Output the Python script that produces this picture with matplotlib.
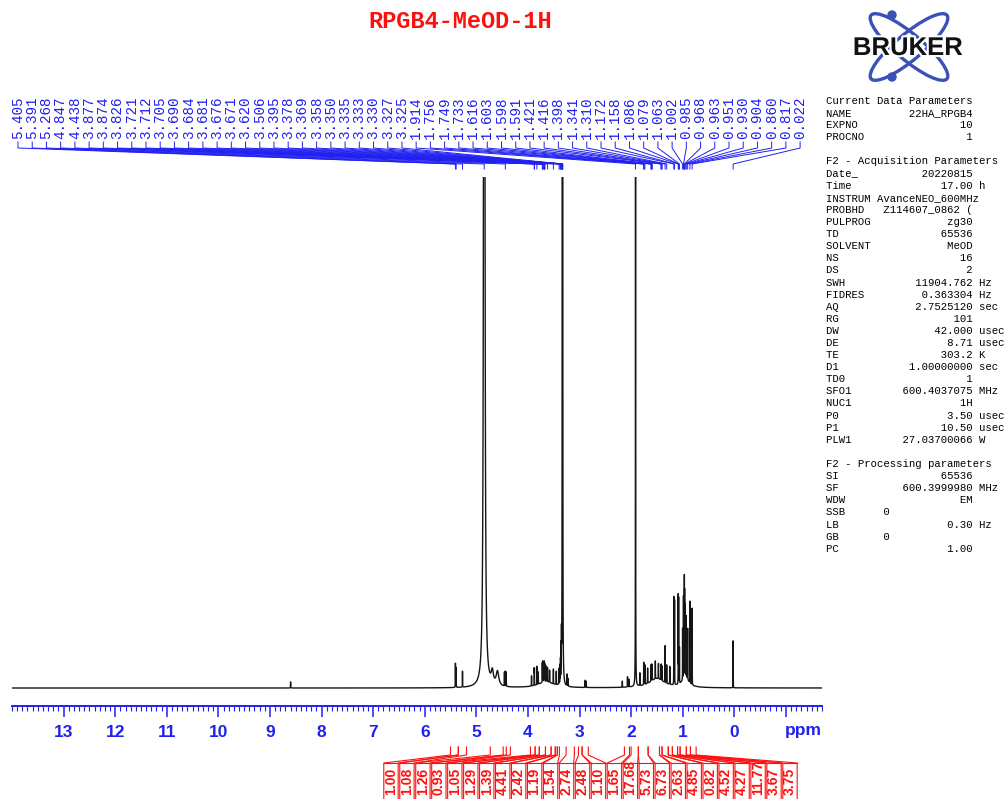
import numpy as np
import matplotlib
matplotlib.use("Agg")
import matplotlib.pyplot as plt
from matplotlib import patheffects
from matplotlib.patches import Ellipse, Circle
from matplotlib.ticker import FixedLocator, MultipleLocator, FuncFormatter

plt.rcParams['path.simplify'] = False

title = 'RPGB4-MeOD-1H'

# picked peaks: shift (ppm), height (% of full scale), line width (ppm)
peak_ppm = [5.405, 5.391, 5.268, 4.847, 4.438,
            3.877, 3.874, 3.826, 3.721, 3.712, 3.705, 3.690, 3.684, 3.681,
            3.676, 3.671, 3.620, 3.506, 3.395, 3.378, 3.369, 3.358, 3.350,
            3.335, 3.333, 3.330, 3.327, 3.325,
            1.914, 1.756, 1.749, 1.733, 1.616, 1.603, 1.598, 1.591, 1.421,
            1.416, 1.398, 1.341, 1.310, 1.172, 1.158, 1.086, 1.079, 1.063,
            1.002, 0.985, 0.968, 0.963, 0.951, 0.930, 0.904, 0.860, 0.817,
            0.022]
peak_height = [4.7, 3.9, 3.1, 800, 2.9,
               3.0, 3.0, 3.6, 3.8, 4.0, 3.6, 3.6, 3.3, 3.2,
               3.1, 3.0, 2.7, 2.9, 3.0, 3.3, 4.2, 6.2, 7.0,
               150, 250, 400, 250, 150,
               300, 4.3, 4.0, 3.8, 3.2, 3.0, 3.0, 2.9, 2.7,
               3.0, 2.9, 7.2, 3.6, 17.2, 16.5, 17.2, 16.5, 7.0,
               10.0, 16.0, 19.0, 16.0, 14.0, 12.0, 10.0, 16.0, 15.0,
               9.2]
peak_fwhm = [0.003] * 3 + [0.012] + [0.0025] * 52

# lines and humps that were not picked
extra_ppm = [8.60, 4.69, 4.59, 4.455, 4.42, 3.93, 3.80, 3.64, 3.58, 3.45,
             3.24, 3.22, 2.89, 2.87, 2.17, 2.07, 2.04, 1.83, 1.68, 1.53,
             1.47, 1.25, 1.50, 3.65, 0.95]
extra_height = [1.2, 2.5, 2.8, 2.7, 2.8, 2.0, 2.4, 3.0, 2.4, 2.6,
                2.3, 1.5, 1.4, 1.2, 1.2, 2.0, 1.5, 2.5, 3.0, 3.5,
                3.0, 3.5, 1.8, 1.2, 2.0]
extra_fwhm = [0.005, 0.05, 0.06, 0.003, 0.003, 0.004, 0.004, 0.004, 0.004, 0.004,
              0.004, 0.004, 0.004, 0.004, 0.004, 0.004, 0.004, 0.004, 0.004, 0.004,
              0.004, 0.004, 0.35, 0.35, 0.15]

# integrals: value and region (ppm)
integral_value = [1.00, 1.08, 1.26, 0.93, 1.05, 1.29, 1.39, 4.41, 2.42, 1.19,
                  1.54, 2.74, 2.48, 1.10, 1.65, 17.68, 5.73, 6.73, 2.63, 4.85,
                  0.82, 4.52, 4.27, 11.77, 3.67, 3.75]
integral_from = [5.50, 5.35, 4.73, 4.42, 3.95, 3.86, 3.78, 3.66, 3.55, 3.47,
                 3.43, 3.26, 3.02, 2.95, 2.13, 2.00, 1.86, 1.67, 1.45, 1.40,
                 1.28, 1.20, 1.10, 1.05, 0.93, 0.85]
integral_to = [5.35, 5.19, 4.48, 4.34, 3.86, 3.78, 3.66, 3.55, 3.47, 3.43,
               3.39, 3.10, 2.95, 2.83, 2.03, 1.86, 1.67, 1.45, 1.40, 1.28,
               1.20, 1.10, 1.05, 0.93, 0.85, 0.74]

# acquisition / processing parameters (name, value, unit)
params = [
    ('Current Data Parameters',),
    ('NAME', '22HA_RPGB4', ''),
    ('EXPNO', '10', ''),
    ('PROCNO', '1', ''),
    (),
    ('F2 - Acquisition Parameters',),
    ('Date_', '20220815', ''),
    ('Time', '17.00', 'h'),
    ('INSTRUM', 'AvanceNEO_600MHz', ''),
    ('PROBHD', 'Z114607_0862 (', ''),
    ('PULPROG', 'zg30', ''),
    ('TD', '65536', ''),
    ('SOLVENT', 'MeOD', ''),
    ('NS', '16', ''),
    ('DS', '2', ''),
    ('SWH', '11904.762', 'Hz'),
    ('FIDRES', '0.363304', 'Hz'),
    ('AQ', '2.7525120', 'sec'),
    ('RG', '101', ''),
    ('DW', '42.000', 'usec'),
    ('DE', '8.71', 'usec'),
    ('TE', '303.2', 'K'),
    ('D1', '1.00000000', 'sec'),
    ('TD0', '1', ''),
    ('SFO1', '600.4037075', 'MHz'),
    ('NUC1', '1H', ''),
    ('P0', '3.50', 'usec'),
    ('P1', '10.50', 'usec'),
    ('PLW1', '27.03700066', 'W'),
    (),
    ('F2 - Processing parameters',),
    ('SI', '65536', ''),
    ('SF', '600.3999980', 'MHz'),
    ('WDW', 'EM', ''),
    ('SSB', '0', 'left'),
    ('LB', '0.30', 'Hz'),
    ('GB', '0', 'left'),
    ('PC', '1.00', ''),
]

BLUE = '#2020f0'
RED = '#ff1010'
W, H = 1008, 799

fig = plt.figure(figsize=(W / 100, H / 100), dpi=100)
fig.patch.set_facecolor('white')

# spectrum axes, bottom spine is the ppm scale
ax_l, ax_r, ax_t, ax_b = 12, 822, 177, 706
ax = fig.add_axes([ax_l / W, 1 - ax_b / H, (ax_r - ax_l) / W, (ax_b - ax_t) / H])
ax.patch.set_visible(False)

grid = np.arange(14.0, -1.7, -0.0004)
x = np.sort(np.concatenate([grid, peak_ppm, extra_ppm]))[::-1]
y = np.zeros_like(x)
for p, h, w in zip(peak_ppm + extra_ppm, peak_height + extra_height,
                   peak_fwhm + extra_fwhm):
    hw = w / 2
    y += h * hw ** 2 / ((x - p) ** 2 + hw ** 2)

ax.plot(x, y, color='#151515', lw=1.0)
ax.set_xlim(14.0, -1.7)
ax.set_ylim(-3.52, 100)

for side in ['top', 'left', 'right']:
    ax.spines[side].set_visible(False)
ax.spines['bottom'].set_color(BLUE)
ax.spines['bottom'].set_linewidth(1.4)
ax.set_yticks([])
ax.xaxis.set_major_locator(FixedLocator(range(-1, 14)))
ax.xaxis.set_minor_locator(MultipleLocator(0.1))
ax.xaxis.set_major_formatter(FuncFormatter(lambda v, pos: '' if v < 0 else '%d' % v))
ax.tick_params(axis='x', which='major', direction='out', length=8, width=1.1,
               color=BLUE, labelcolor=BLUE, pad=6)
ax.tick_params(axis='x', which='minor', direction='out', length=3.5, width=0.8,
               color=BLUE)
for lab in ax.get_xticklabels():
    lab.set_fontfamily('Liberation Sans')
    lab.set_fontweight('bold')
    lab.set_fontsize(12.5)

# pixel-space overlay for labels and annotations
over = fig.add_axes([0, 0, 1, 1])
over.set_xlim(0, W)
over.set_ylim(H, 0)
over.axis('off')


def ppm_to_px(vals):
    pts = np.column_stack([vals, np.zeros(len(vals))])
    return over.transData.inverted().transform(ax.transData.transform(pts))[:, 0]


over.text(803, 731, 'ppm', ha='center', va='center', color=BLUE,
          fontsize=12.5, fontweight='bold', family='Liberation Sans')

over.text(460, 22, title, ha='center', va='center', color=RED,
          fontsize=17, fontweight='bold', family='Liberation Mono')

# peak labels with leader lines
peak_px = ppm_to_px(peak_ppm)
lab_x0, lab_dx = 18, 14.22
for i, (p, px) in enumerate(zip(peak_ppm, peak_px)):
    lx = lab_x0 + i * lab_dx
    over.plot([lx, lx, px, px], [142, 148, 164, 169], color=BLUE, lw=0.7)
    over.text(lx, 139, '%.3f' % p, rotation=90, ha='center', va='bottom',
              color=BLUE, fontsize=10.3, family='Liberation Mono')

# integral labels with brackets
a_px = ppm_to_px(integral_from)
b_px = ppm_to_px(integral_to)
box_x0, box_w = 383, 15.96
for i, (val, pa, pb) in enumerate(zip(integral_value, a_px, b_px)):
    bl = box_x0 + i * box_w + 0.8
    br = box_x0 + (i + 1) * box_w - 0.8
    over.plot([pa, pa, bl, bl], [747, 755, 763, 800], color=RED, lw=0.8)
    over.plot([pb, pb, br, br], [747, 755, 763, 800], color=RED, lw=0.8)
    over.plot([bl, br], [763, 763], color=RED, lw=0.8)
    over.text((bl + br) / 2, 795, '%.2f' % val, rotation=90, ha='center',
              va='bottom', color=RED, fontsize=10, fontweight='bold',
              family='Liberation Sans')

# parameter block
for k, row in enumerate(params):
    if not row:
        continue
    if len(row) == 1:
        line = row[0]
    else:
        name, val, unit = row
        if unit == 'left':
            line = f'{name:<9}{val}'
        else:
            line = f'{name:<8}{val:>15} {unit}'.rstrip()
    over.text(826, 101 + k * 12.1, line, ha='left', va='center',
              fontsize=7.7, family='Liberation Mono', color='black')

# logo
orbit = '#3a52b8'
for ang in (40, -40):
    over.add_patch(Ellipse((909, 47), 99, 26, angle=ang, fill=False,
                           ec=orbit, lw=2.4))
over.add_patch(Circle((892, 15), 4, color=orbit))
over.add_patch(Circle((892, 77), 4, color=orbit))
over.text(908, 48, 'BRUKER', ha='center', va='center', fontsize=18.5,
          fontweight='bold', family='Liberation Sans', color='#111111',
          path_effects=[patheffects.withStroke(linewidth=3, foreground='white')])

fig.savefig('out.png', dpi=100)
